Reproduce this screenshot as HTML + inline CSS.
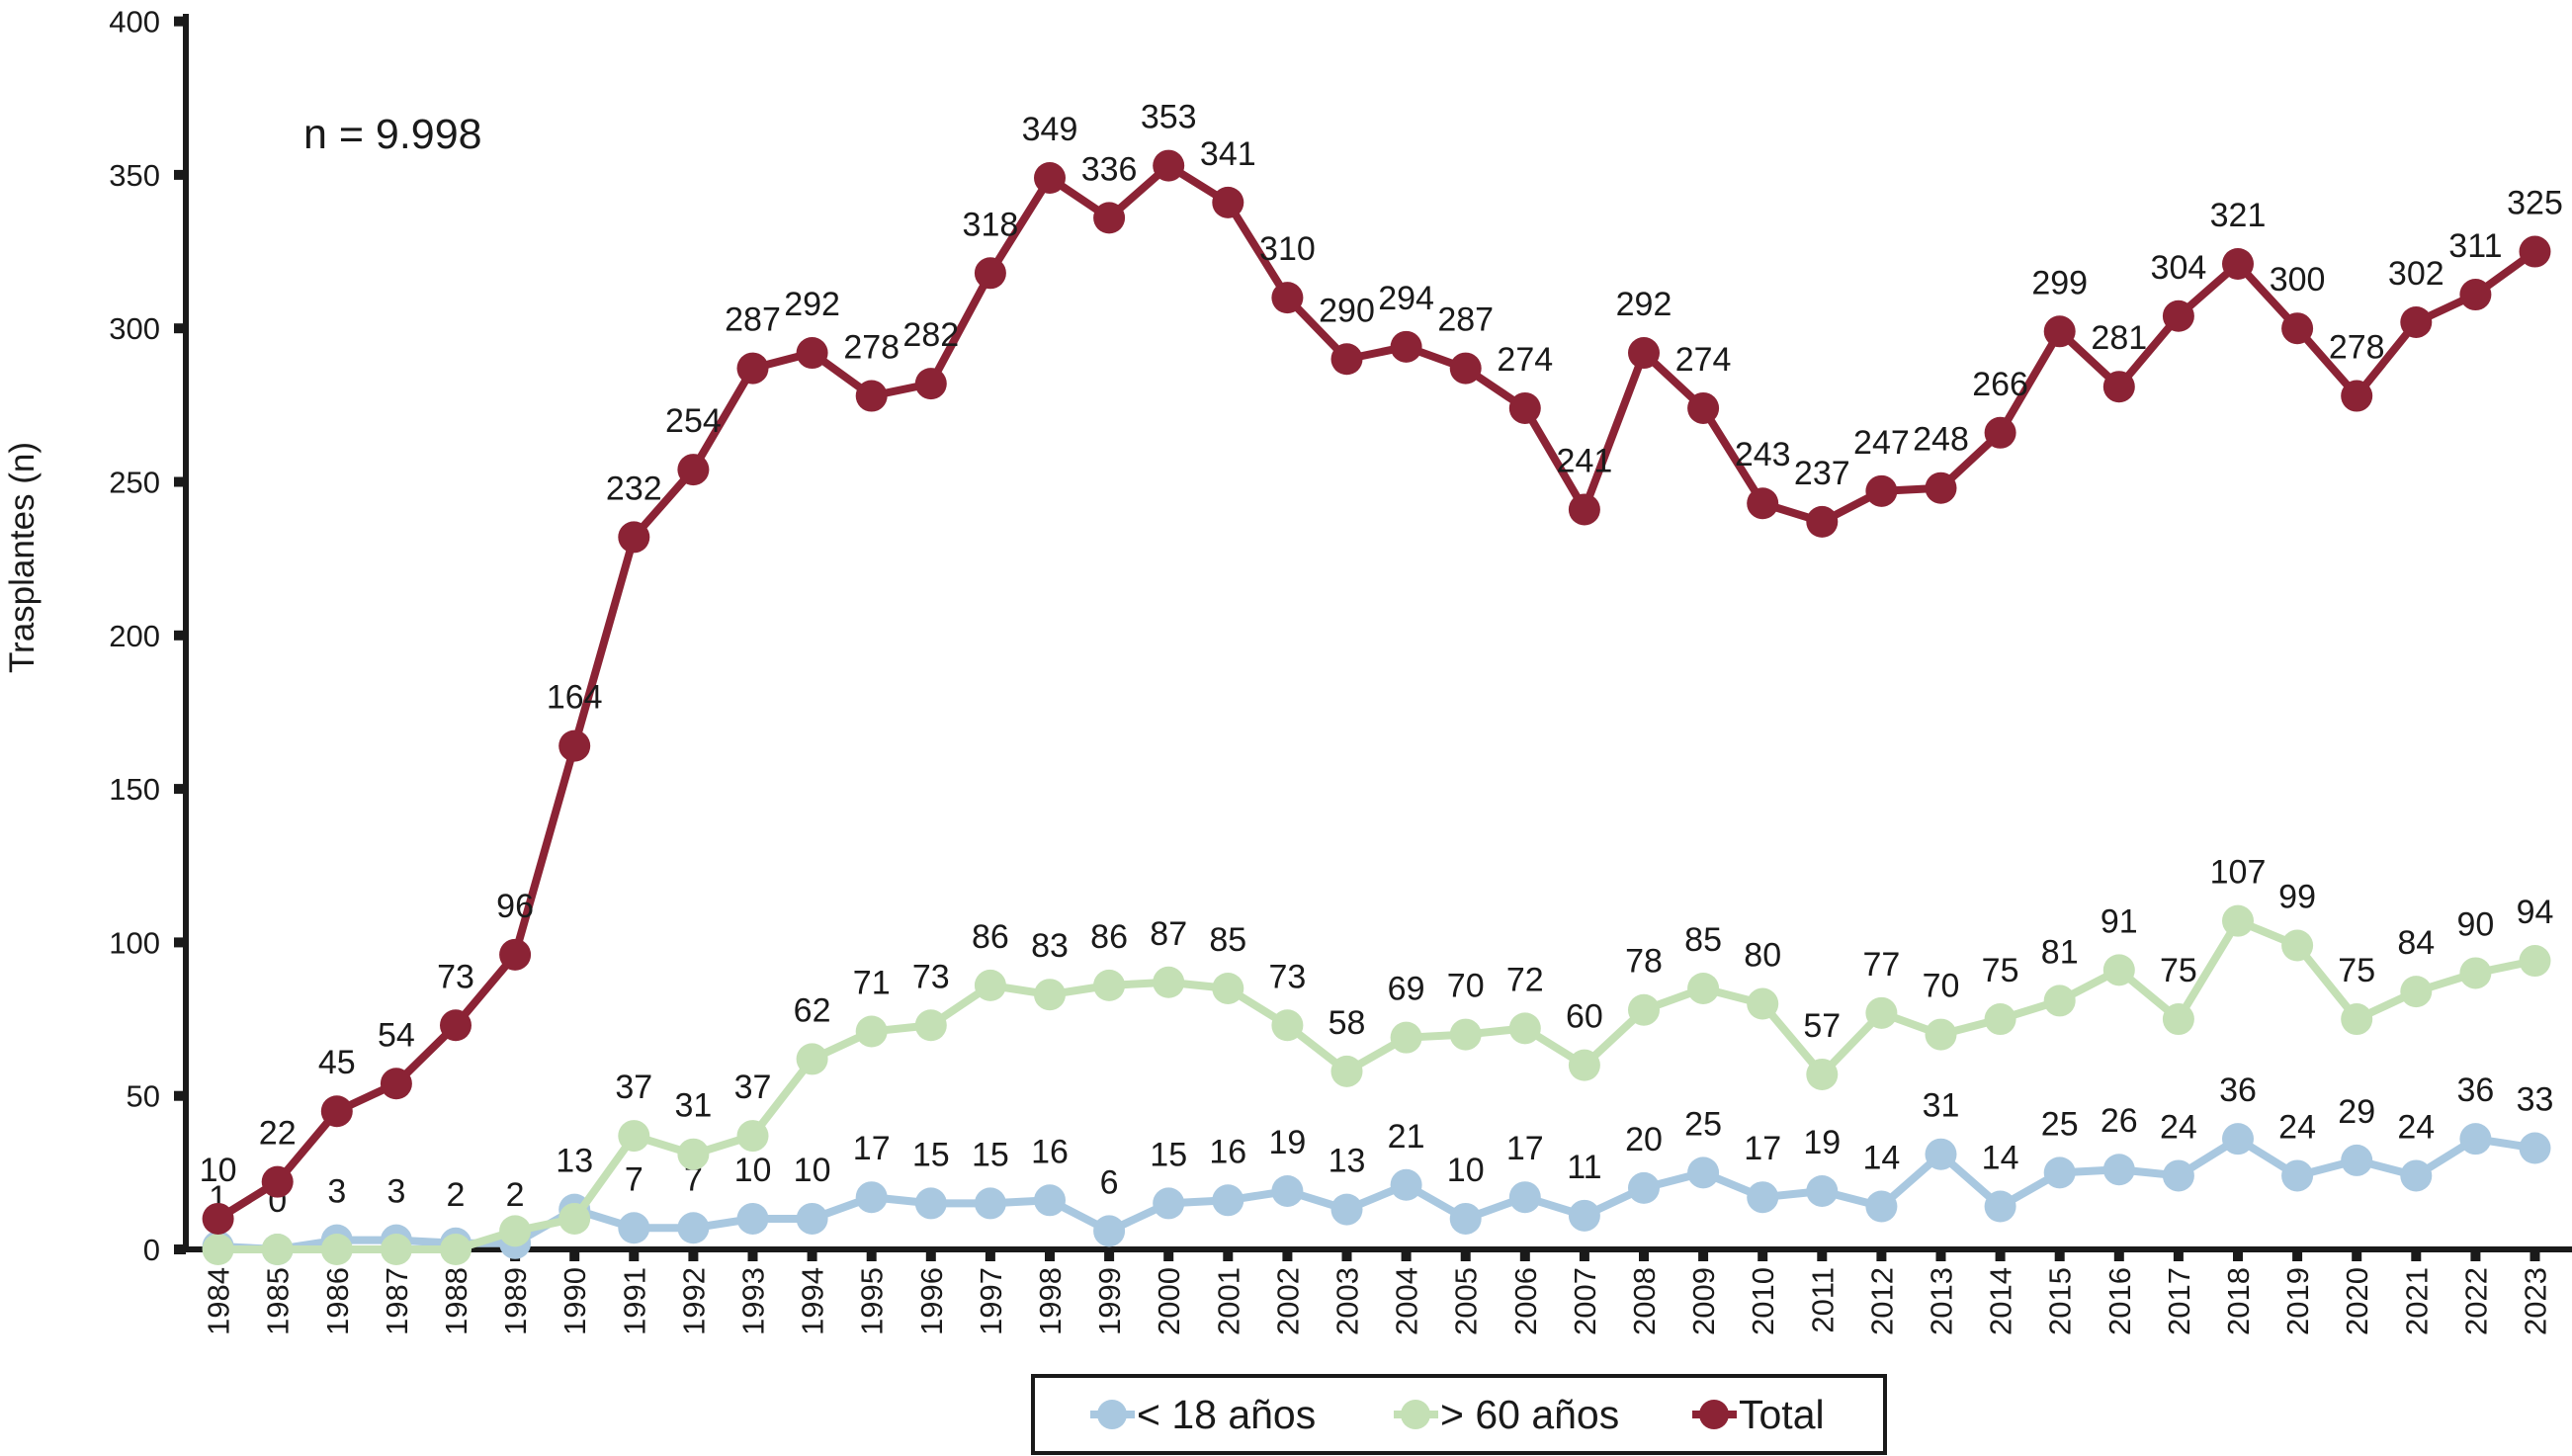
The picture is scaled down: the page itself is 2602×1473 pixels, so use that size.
<!DOCTYPE html>
<html><head><meta charset="utf-8"><style>
html,body{margin:0;padding:0;background:#fff}
svg{display:block;font-family:"Liberation Sans",sans-serif}
</style></head><body>
<svg id="chart" width="2602" height="1473" viewBox="0 0 2602 1473">
<g id="axes"></g>
<g id="series"></g>
<text x="307" y="150" font-size="43" fill="#1a1a1a">n = 9.998</text>
<text transform="translate(34,564) rotate(-90)" text-anchor="middle" font-size="35" fill="#1a1a1a">Trasplantes (n)</text>
<g>
<rect x="1045" y="1392" width="862" height="78" fill="#fff" stroke="#1a1a1a" stroke-width="4"/>
<g>
<line x1="1103" y1="1431" x2="1148" y2="1431" stroke="#a9c8e0" stroke-width="8"/><circle cx="1125" cy="1431" r="15" fill="#a9c8e0"/>
<text x="1150" y="1445" font-size="41" fill="#1a1a1a">&lt; 18 años</text></g>
<g>
<line x1="1410" y1="1431" x2="1455" y2="1431" stroke="#c4e0b5" stroke-width="8"/><circle cx="1432" cy="1431" r="15" fill="#c4e0b5"/>
<text x="1457" y="1445" font-size="41" fill="#1a1a1a">&gt; 60 años</text></g>
<g>
<line x1="1712" y1="1431" x2="1757" y2="1431" stroke="#8b2335" stroke-width="8"/><circle cx="1734" cy="1431" r="15" fill="#8b2335"/>
<text x="1759" y="1445" font-size="41" fill="#1a1a1a">Total</text></g>
</g>
</svg>
<script>
const years=[1984,1985,1986,1987,1988,1989,1990,1991,1992,1993,1994,1995,1996,1997,1998,1999,2000,2001,2002,2003,2004,2005,2006,2007,2008,2009,2010,2011,2012,2013,2014,2015,2016,2017,2018,2019,2020,2021,2022,2023];
const totalValues=[10,22,45,54,73,96,164,232,254,287,292,278,282,318,349,336,353,341,310,290,294,287,274,241,292,274,243,237,247,248,266,299,281,304,321,300,278,302,311,325];
const under18Values=[1,0,3,3,2,2,13,7,7,10,10,17,15,15,16,6,15,16,19,13,21,10,17,11,20,25,17,19,14,31,14,25,26,24,36,24,29,24,36,33];
const over60Values=[0,0,0,0,0,6,10,37,31,37,62,71,73,86,83,86,87,85,73,58,69,70,72,60,78,85,80,57,77,70,75,81,91,75,107,99,75,84,90,94];
const yTicks=[0,50,100,150,200,250,300,350,400];

const NS="http://www.w3.org/2000/svg";
const x0=220.6,dx=60.1,yZero=1264,yTop=21.6,yMax=400;
function xs(i){return x0+i*dx;}
function ys(v){return yZero-(v/yMax)*(yZero-yTop);}
function mk(tag,attrs,parent){const e=document.createElementNS(NS,tag);for(const k in attrs)e.setAttribute(k,attrs[k]);parent.appendChild(e);return e;}
const axes=document.getElementById('axes'),series=document.getElementById('series');
let el=mk('line',{x1:188,y1:14,x2:188,y2:yZero+3,stroke:'#1a1a1a','stroke-width':6},axes);


el=mk('line',{x1:185,y1:yZero,x2:2602,y2:yZero,stroke:'#1a1a1a','stroke-width':6},axes);


yTicks.forEach(t=>{
  const y=ys(t);
  let tk=mk('rect',{x:176,y:y-5,width:12,height:10,fill:'#1a1a1a'},axes);
  
  
  let lb=mk('text',{x:162,y:y+11,'text-anchor':'end','font-size':31,fill:'#1a1a1a'},axes);
  lb.textContent=t;
  
  
});
years.forEach((yr,i)=>{
  const x=xs(i);
  let tk=mk('rect',{x:x-5,y:yZero,width:10,height:12,fill:'#1a1a1a'},axes);
  
  
  let lb=mk('text',{transform:`translate(${x+11},${yZero+18}) rotate(-90)`,'text-anchor':'end','font-size':31,fill:'#1a1a1a'},axes);
  lb.textContent=yr;
  
  
});
function drawSeries(vals,color,name,labelFrom,labelTo){
  const g=mk('g',{},series);
  
  
  const pts=vals.map((v,i)=>xs(i)+','+ys(v)).join(' ');
  let pl=mk('polyline',{points:pts,fill:'none',stroke:color,'stroke-width':8,'stroke-linejoin':'round'},g);
  
  
  vals.forEach((v,i)=>{
    let c=mk('circle',{cx:xs(i),cy:ys(v),r:16,fill:color},g);
    
    
  });
  vals.forEach((v,i)=>{
    if(i<labelFrom||i>labelTo)return;
    let t=mk('text',{x:xs(i),y:ys(v)-38,'text-anchor':'middle','font-size':34,fill:'#1a1a1a'},g);
    t.textContent=v;
    
    
  });
}
drawSeries(under18Values,'#a9c8e0','under-18',0,39);
drawSeries(over60Values,'#c4e0b5','over-60',7,39);
drawSeries(totalValues,'#8b2335','total',0,39);
</script>
</body></html>
